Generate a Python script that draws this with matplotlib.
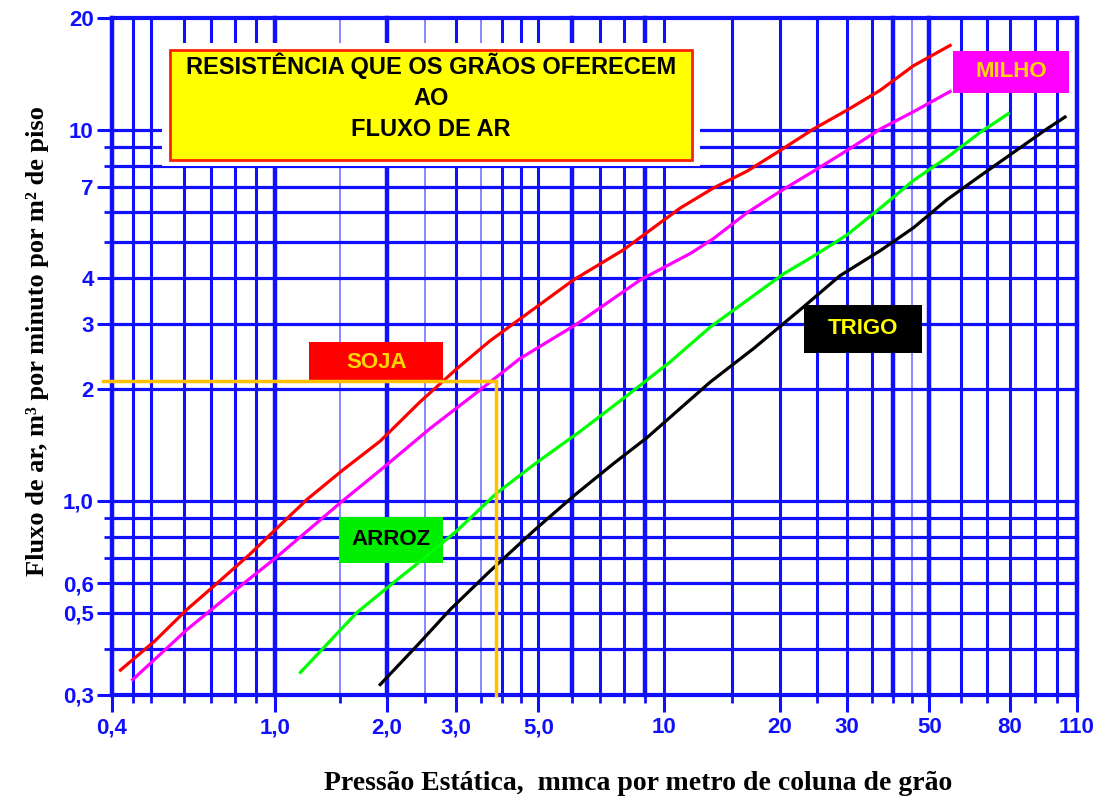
import matplotlib
matplotlib.use("Agg")
import numpy as np
import matplotlib.pyplot as plt
from matplotlib.patches import Rectangle
from matplotlib.ticker import FixedLocator, NullFormatter

# curvas: pressao estatica (mmca/m) x fluxo de ar (m3/min/m2)
soja_x = [0.42, 0.51, 0.61, 0.71, 0.87, 1.0, 1.22, 1.52, 1.92, 2.43, 3.01, 3.7,
          6.06, 7.98, 11.0, 13.4, 16.4, 20, 24.5, 30, 36.9, 45.3, 56.4]
soja_y = [0.35, 0.42, 0.51, 0.59, 0.72, 0.835, 1.01, 1.21, 1.45, 1.85, 2.27, 2.70,
          3.94, 4.75, 6.16, 6.97, 7.74, 8.8, 10.06, 11.3, 12.8, 14.9, 16.9]

milho_x = [0.45, 0.61, 0.80, 1.0, 1.52, 1.92, 2.58, 3.41, 4.46, 6.18, 8.75, 11.7,
           13.4, 16.4, 20, 24.5, 30, 36.9, 45.3, 56.4]
milho_y = [0.33, 0.45, 0.575, 0.70, 1.0, 1.21, 1.57, 1.96, 2.42, 3.0, 3.94, 4.65,
           5.09, 5.98, 6.83, 7.74, 8.8, 10.06, 11.2, 12.7]

arroz_x = [1.17, 1.66, 2.07, 2.4, 3.01, 3.86, 4.95, 6.29, 8.13, 10.35, 13.15, 20.4,
           24.5, 30, 36.9, 45.3, 55.3, 67.2, 79.2]
arroz_y = [0.345, 0.50, 0.60, 0.68, 0.83, 1.05, 1.27, 1.54, 1.92, 2.37, 2.94, 4.09,
           4.57, 5.21, 6.16, 7.31, 8.42, 9.85, 11.07]

trigo_x = [1.92, 2.4, 2.9, 3.69, 4.85, 6.06, 7.55, 9.08, 13.15, 17.1, 23.1, 28.8,
           36.9, 45.3, 55.3, 67.2, 81.3, 95.3, 104]
trigo_y = [0.32, 0.41, 0.51, 0.645, 0.83, 1.03, 1.26, 1.48, 2.09, 2.58, 3.34, 4.05,
           4.73, 5.45, 6.48, 7.52, 8.7, 10.06, 10.84]

# exemplo de leitura (linha amarela)
exemplo_x = 3.85
exemplo_y = 2.1

# grade e rotulos
x_grade = [0.4, 0.45, 0.5, 0.6, 0.7, 0.8, 0.9, 1, 1.5, 2, 2.5, 3, 3.5, 4, 4.5, 5,
           6, 7, 8, 9, 10, 15, 20, 25, 30, 35, 40, 45, 50, 60, 70, 80, 90, 100, 110]
x_grossas = [0.4, 1, 2, 6, 9, 40, 50, 110]
x_claras = [1.5, 2.5, 3.5, 45]
x_ticks = [0.4, 1, 2, 3, 5, 10, 20, 30, 50, 80, 110]
x_rotulos = ["0,4", "1,0", "2,0", "3,0", "5,0", "10", "20", "30", "50", "80", "110"]

y_grade = [0.3, 0.4, 0.5, 0.6, 0.7, 0.8, 0.9, 1, 2, 3, 4, 5, 6, 7, 8, 9, 10, 20]
y_ticks = [0.3, 0.5, 0.6, 1, 2, 3, 4, 7, 10, 20]
y_rotulos = ["0,3", "0,5", "0,6", "1,0", "2", "3", "4", "7", "10", "20"]

# o eixo x do original nao e um log perfeito: posicao relativa de cada rotulo
escala_val = np.log10(x_ticks)
escala_pos = np.array([0, 0.1692, 0.2850, 0.3568, 0.4421, 0.5726, 0.6925,
                       0.7617, 0.8473, 0.9309, 1.0])


def ida(x):
    lx = np.log10(np.clip(np.asarray(x, dtype=float), 1e-6, None))
    p = np.interp(lx, escala_val, escala_pos)
    s0 = (escala_pos[1] - escala_pos[0]) / (escala_val[1] - escala_val[0])
    s1 = (escala_pos[-1] - escala_pos[-2]) / (escala_val[-1] - escala_val[-2])
    p = np.where(lx < escala_val[0], escala_pos[0] + (lx - escala_val[0]) * s0, p)
    p = np.where(lx > escala_val[-1], escala_pos[-1] + (lx - escala_val[-1]) * s1, p)
    return p


def volta(p):
    p = np.asarray(p, dtype=float)
    lx = np.interp(p, escala_pos, escala_val)
    s0 = (escala_val[1] - escala_val[0]) / (escala_pos[1] - escala_pos[0])
    s1 = (escala_val[-1] - escala_val[-2]) / (escala_pos[-1] - escala_pos[-2])
    lx = np.where(p < escala_pos[0], escala_val[0] + (p - escala_pos[0]) * s0, lx)
    lx = np.where(p > escala_pos[-1], escala_val[-1] + (p - escala_pos[-1]) * s1, lx)
    return 10 ** lx


azul = "#1010ff"
azul_claro = "#8888ff"

fig = plt.figure(figsize=(11.14, 7.99), dpi=100)
ax = fig.add_axes([0.1003, 0.1302, 0.8663, 0.8469])
ax.set_xscale("function", functions=(ida, volta))
ax.set_yscale("log")
ax.set_xlim(0.4, 110)
ax.set_ylim(0.3, 20)
for s in ax.spines.values():
    s.set_visible(False)

# linhas da grade
for v in x_grade:
    if v in x_claras:
        ax.axvline(v, color=azul_claro, lw=1.4, zorder=1, clip_on=False)
    elif v in x_grossas:
        ax.axvline(v, color=azul, lw=3.2, zorder=1, clip_on=False)
    else:
        ax.axvline(v, color=azul, lw=2.2, zorder=1, clip_on=False)
for v in y_grade:
    lw = 3.0 if v in (0.3, 20) else 2.3
    ax.axhline(v, color=azul, lw=lw, zorder=1, clip_on=False)

ax.xaxis.set_major_locator(FixedLocator(x_ticks))
ax.xaxis.set_minor_locator(FixedLocator([v for v in x_grade if v not in x_ticks]))
ax.xaxis.set_minor_formatter(NullFormatter())
ax.set_xticklabels(x_rotulos)
ax.yaxis.set_major_locator(FixedLocator(y_ticks))
ax.yaxis.set_minor_locator(FixedLocator([v for v in y_grade if v not in y_ticks]))
ax.yaxis.set_minor_formatter(NullFormatter())
ax.set_yticklabels(y_rotulos)

ax.tick_params(axis="x", which="major", length=12, width=2.2, color=azul, pad=4,
               labelsize=16, labelcolor=azul)
ax.tick_params(axis="x", which="minor", length=6, width=2.0, color=azul)
ax.tick_params(axis="y", which="major", length=11, width=2.2, color=azul, pad=2,
               labelsize=16, labelcolor=azul)
ax.tick_params(axis="y", which="minor", length=6, width=2.0, color=azul)
for t in ax.get_xticklabels() + ax.get_yticklabels():
    t.set_fontfamily("Liberation Sans")
    t.set_fontweight("bold")

# caixa do titulo (apaga a grade em volta)
ax.add_patch(Rectangle((0.052, 0.782), 0.558, 0.1815, transform=ax.transAxes,
                       facecolor="white", edgecolor="none", zorder=2))
ax.add_patch(Rectangle((0.0604, 0.7906), 0.5409, 0.1624, transform=ax.transAxes,
                       facecolor="#ffff00", edgecolor="#ff2000", lw=2, zorder=3))
ax.text(0.331, 0.8837, "RESISTÊNCIA QUE OS GRÃOS OFERECEM\nAO\nFLUXO DE AR",
        transform=ax.transAxes, ha="center", va="center", fontsize=17,
        fontfamily="Liberation Sans", fontweight="bold", linespacing=1.45, zorder=4)

# etiquetas das curvas
etiquetas = [
    ("SOJA", (0.2045, 0.461, 0.139, 0.0606), "#ff0000", "#ffd700"),
    ("MILHO", (0.872, 0.89, 0.12, 0.062), "#ff00ff", "#ffd700"),
    ("TRIGO", (0.7174, 0.5058, 0.1223, 0.0705), "#000000", "#ffff00"),
    ("ARROZ", (0.2351, 0.1955, 0.1082, 0.068), "#00ee00", "#000000"),
]
for nome, (x0, y0, w, h), fundo, cor in etiquetas:
    ax.add_patch(Rectangle((x0, y0), w, h, transform=ax.transAxes,
                           facecolor=fundo, edgecolor="none", zorder=3))
    ax.text(x0 + w / 2, y0 + h / 2, nome, transform=ax.transAxes, ha="center",
            va="center", fontsize=16, color=cor, fontfamily="Liberation Sans",
            fontweight="bold", zorder=4)

ax.plot(soja_x, soja_y, color="#ff0000", lw=2.3, zorder=5)
ax.plot(milho_x, milho_y, color="#ff00ff", lw=2.3, zorder=5)
ax.plot(arroz_x, arroz_y, color="#00ff00", lw=2.3, zorder=5)
ax.plot(trigo_x, trigo_y, color="#000000", lw=2.3, zorder=5)

ax.plot([0.38, exemplo_x, exemplo_x], [exemplo_y, exemplo_y, 0.3], color="#ffc000",
        lw=2.5, zorder=6, clip_on=False, solid_joinstyle="miter")

fig.text(38 / 1114, 1 - 341 / 799, "Fluxo de ar, m³ por minuto por m² de piso",
         rotation=90, ha="center", va="center", fontsize=19,
         fontfamily="Liberation Serif", fontweight="bold")
fig.text(638 / 1114, 1 - 783 / 799, "Pressão Estática,  mmca por metro de coluna de grão",
         ha="center", va="center", fontsize=20, fontfamily="Liberation Serif",
         fontweight="bold")

fig.savefig("out.png", dpi=100)
